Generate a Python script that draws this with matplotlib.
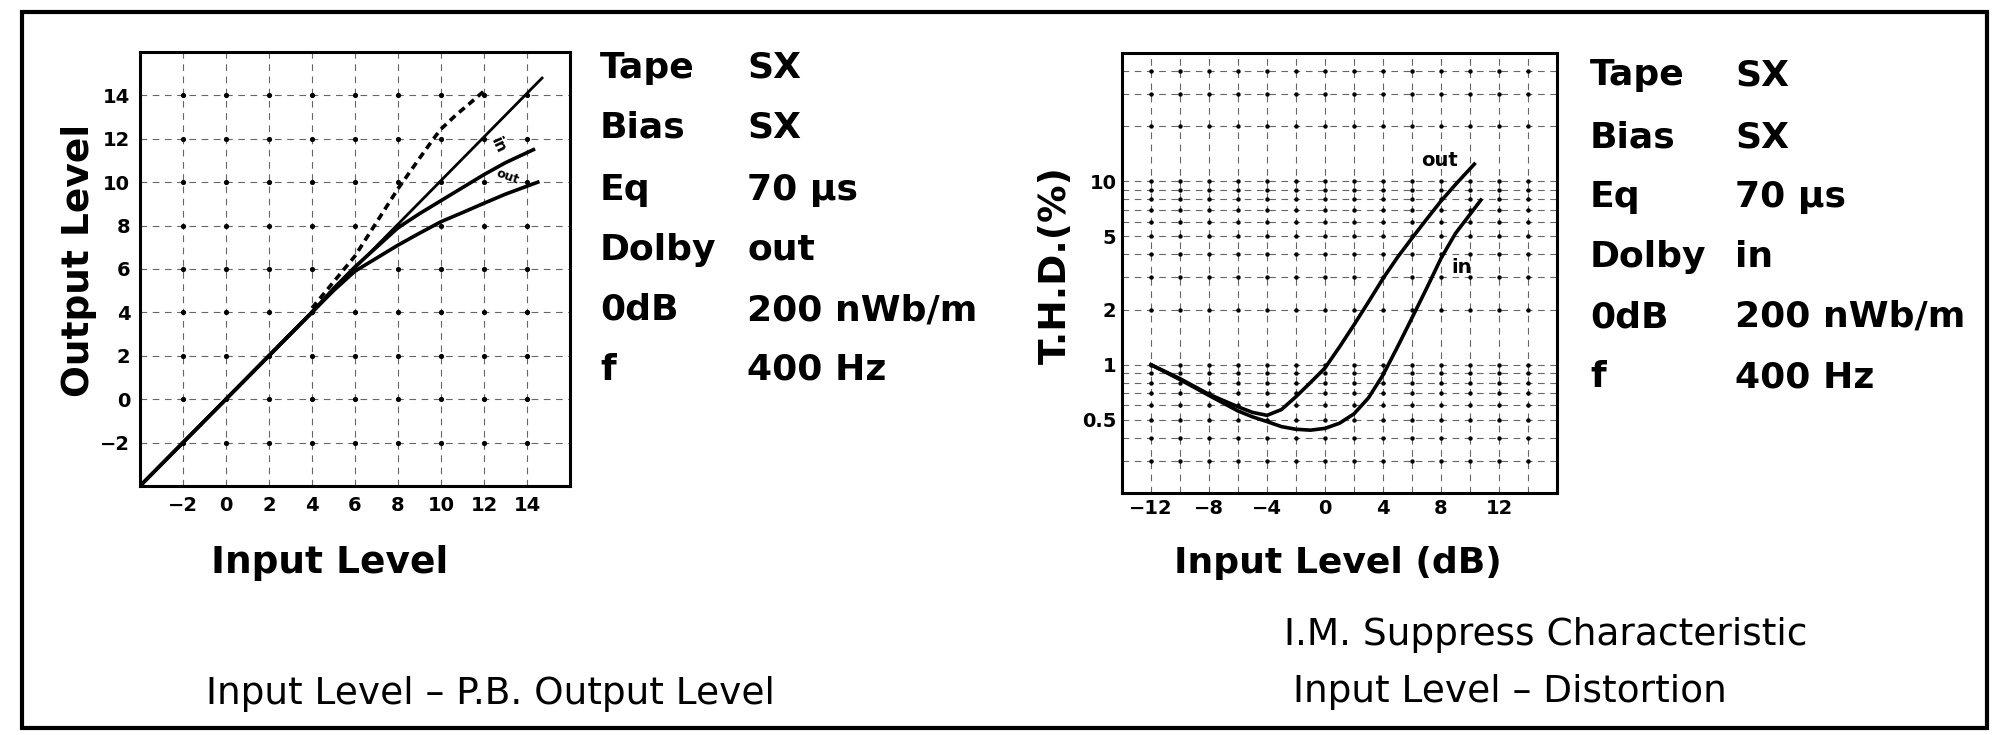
import numpy as np
import matplotlib.pyplot as plt
from matplotlib.patches import Rectangle

plt.rcParams['font.family'] = ['DejaVu Sans']

# ---- left chart: Input Level - P.B. Output Level ----
lin_x = [-4, 14.7]
lin_y = [-4, 14.8]
dash_x = [4, 5, 6, 7, 8, 9, 9.65, 10, 10.7, 11.3, 12]
dash_y = [4.2, 5.4, 6.6, 8.15, 9.7, 11.1, 12.0, 12.45, 13.1, 13.6, 14.2]
in_x = [-4, 4, 5, 6, 7, 8, 9, 10, 11, 12, 13, 14.3]
in_y = [-4, 4, 5.1, 6.1, 7.0, 7.9, 8.55, 9.15, 9.75, 10.35, 10.9, 11.5]
out_x = [-4, 4, 5, 6, 7, 8, 9, 10, 11, 12, 13, 14.5]
out_y = [-4, 4, 5.0, 5.9, 6.5, 7.1, 7.65, 8.18, 8.6, 9.03, 9.45, 10.0]
left_ticks = [-2, 0, 2, 4, 6, 8, 10, 12, 14]
left_grid = [-2, 0, 2, 4, 6, 8, 10, 12, 14]

# ---- right chart: Input Level - Distortion ----
thd_out_x = [-12, -10, -8, -6, -5, -4, -3, -2, -1, 0, 1, 2, 3, 4, 5, 6, 7, 8, 9, 10.3]
thd_out_y = [1.0, 0.84, 0.69, 0.59, 0.55, 0.53, 0.57, 0.67, 0.80, 0.96, 1.25, 1.65,
             2.2, 2.95, 3.85, 4.9, 6.2, 7.8, 9.6, 12.4]
thd_in_x = [-12, -10, -8, -6, -5, -4, -3, -2, -1, 0, 1, 2, 3, 4, 5, 6, 7, 8, 9, 10, 10.75]
thd_in_y = [1.0, 0.83, 0.68, 0.56, 0.52, 0.49, 0.46, 0.445, 0.44, 0.45, 0.48, 0.54,
            0.66, 0.88, 1.25, 1.8, 2.6, 3.8, 5.2, 6.6, 7.9]
right_xticks = [-12, -8, -4, 0, 4, 8, 12]
right_xgrid = [-12, -10, -8, -6, -4, -2, 0, 2, 4, 6, 8, 10, 12, 14]
right_yticks = [0.5, 1, 2, 5, 10]
right_ytick_labels = ['0.5', '1', '2', '5', '10']
right_ygrid = [0.3, 0.4, 0.5, 0.6, 0.7, 0.8, 0.9, 1, 2, 3, 4, 5, 6, 7, 8, 9, 10, 20, 30, 40]

cond_keys = ['Tape', 'Bias', 'Eq', 'Dolby', '0dB', 'f']
cond_left = ['SX', 'SX', '70 \u03bcs', 'out', '200 nWb/m', '400 Hz']
cond_right = ['SX', 'SX', '70 \u03bcs', 'in', '200 nWb/m', '400 Hz']

W, H = 1992, 735
fig = plt.figure(figsize=(W / 100, H / 100), dpi=100)


def fx(px):
    return px / W


def fy(py):
    return 1 - py / H


def axes_px(x0, y0, x1, y1):
    return fig.add_axes([fx(x0), fy(y1), (x1 - x0) / W, (y1 - y0) / H])


grid_kw = dict(color='0.4', lw=0.8, ls=(0, (6, 5)), zorder=1)

# left axes
ax1 = axes_px(140, 52, 570, 486)
ax1.set_xlim(-4, 16)
ax1.set_ylim(-4, 16)
for g in left_grid:
    ax1.axvline(g, **grid_kw)
    ax1.axhline(g, **grid_kw)
gx, gy = np.meshgrid(left_grid, left_grid)
ax1.scatter(gx.ravel(), gy.ravel(), s=14, color='k', zorder=2, linewidths=0)
ax1.plot(lin_x, lin_y, color='k', lw=2.0, zorder=3)
ax1.plot(dash_x, dash_y, color='k', lw=2.6, ls=(0, (2, 1.4)), zorder=3)
ax1.plot(in_x, in_y, color='k', lw=2.6, zorder=3)
ax1.plot(out_x, out_y, color='k', lw=2.6, zorder=3)
ax1.text(12.65, 11.7, 'in', fontsize=11, fontweight='bold', rotation=-65,
         ha='center', va='center')
ax1.text(13.1, 10.25, 'out', fontsize=9, fontweight='bold', rotation=-20,
         ha='center', va='center')
ax1.set_xticks(left_ticks)
ax1.set_yticks(left_ticks)
ax1.set_xticklabels([str(t).replace('-', '\u2212') for t in left_ticks])
ax1.set_yticklabels([str(t).replace('-', '\u2212') for t in left_ticks])
ax1.tick_params(length=0, labelsize=14, pad=7)
for lab in ax1.get_xticklabels() + ax1.get_yticklabels():
    lab.set_fontweight('bold')
for s in ax1.spines.values():
    s.set_linewidth(2.2)

# right axes
ax2 = axes_px(1122, 53, 1557, 493)
ax2.set_yscale('log')
ax2.set_xlim(-14, 16)
ax2.set_ylim(0.2, 50)
for g in right_xgrid:
    ax2.axvline(g, **grid_kw)
for g in right_ygrid:
    ax2.axhline(g, **grid_kw)
gx, gy = np.meshgrid(right_xgrid, right_ygrid)
ax2.scatter(gx.ravel(), gy.ravel(), s=10, color='k', zorder=2, linewidths=0)
ax2.plot(thd_out_x, thd_out_y, color='k', lw=2.6, zorder=3)
ax2.plot(thd_in_x, thd_in_y, color='k', lw=2.6, zorder=3)
ax2.text(7.9, 13.0, 'out', fontsize=14, fontweight='bold', ha='center', va='center')
ax2.text(9.4, 3.4, 'in', fontsize=14, fontweight='bold', ha='center', va='center')
ax2.set_xticks(right_xticks)
ax2.set_xticklabels([str(t).replace('-', '\u2212') for t in right_xticks])
ax2.set_yticks(right_yticks)
ax2.set_yticklabels(right_ytick_labels)
ax2.minorticks_off()
ax2.tick_params(length=0, labelsize=14, pad=4)
for lab in ax2.get_xticklabels() + ax2.get_yticklabels():
    lab.set_fontweight('bold')
for s in ax2.spines.values():
    s.set_linewidth(2.2)

# axis titles
fig.text(fx(79), fy(260), 'Output Level', rotation=90, fontsize=27,
         fontweight='bold', ha='center', va='center')
fig.text(fx(330), fy(563), 'Input Level', fontsize=27, fontweight='bold',
         ha='center', va='center')
fig.text(fx(1056), fy(265), 'T.H.D.(%)', rotation=90, fontsize=27,
         fontweight='bold', ha='center', va='center')
fig.text(fx(1338), fy(563), 'Input Level (dB)', fontsize=26, fontweight='bold',
         ha='center', va='center')

# condition blocks
rows_left = [68, 128, 190, 250, 310, 370]
rows_right = [75, 137, 197, 257, 317, 377]
for k, v, r in zip(cond_keys, cond_left, rows_left):
    fig.text(fx(600), fy(r), k, fontsize=26, fontweight='bold', va='center')
    fig.text(fx(747), fy(r), v, fontsize=26, fontweight='bold', va='center')
for k, v, r in zip(cond_keys, cond_right, rows_right):
    fig.text(fx(1590), fy(r), k, fontsize=26, fontweight='bold', va='center')
    fig.text(fx(1735), fy(r), v, fontsize=26, fontweight='bold', va='center')

# captions
cap_kw = dict(fontsize=27, ha='center', va='center')
fig.text(fx(490), fy(694), 'Input Level \u2013 P.B. Output Level', **cap_kw)
fig.text(fx(1546), fy(635), 'I.M. Suppress Characteristic', **cap_kw)
fig.text(fx(1510), fy(692), 'Input Level \u2013 Distortion', **cap_kw)

# outer frame
fig.patches.append(Rectangle((fx(22), fy(728)), (1987 - 22) / W, (728 - 12) / H,
                             transform=fig.transFigure, fill=False, lw=3, color='k'))

fig.savefig('out.png', dpi=100)
